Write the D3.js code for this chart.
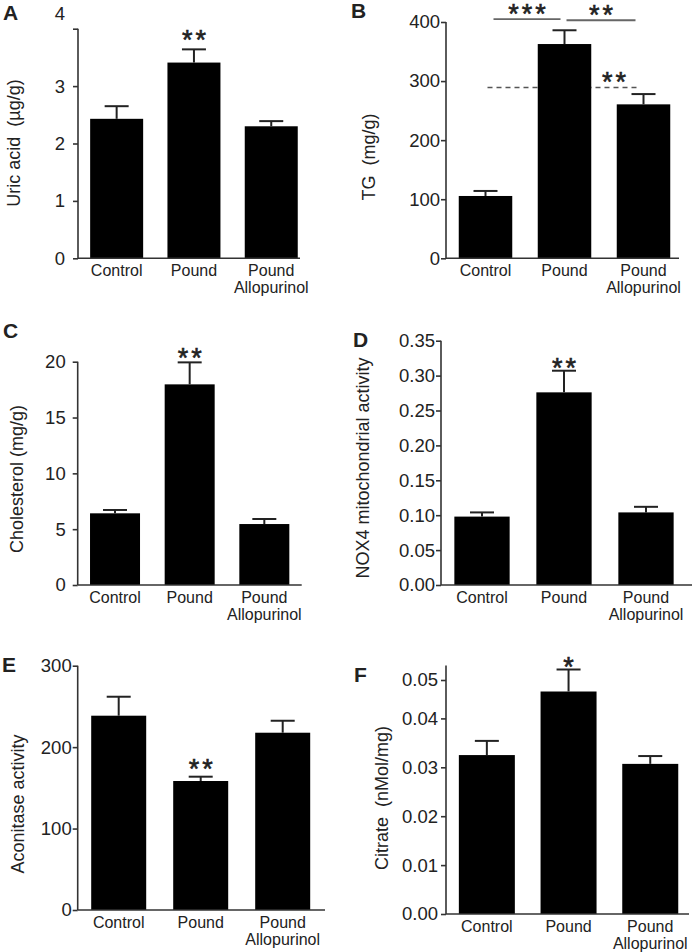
<!DOCTYPE html>
<html>
  <head>
    <meta charset="utf-8">
    <title>Pound / Allopurinol panels</title>
    <script src="https://d3js.org/d3.v7.min.js"></script>
    <style>
      body { margin: 0; background: #fff; }
      text { font-family: "Liberation Sans", Arial, sans-serif; fill: #222; white-space: pre; }
    </style>
  </head>
  <body>
    <svg id="grafico"></svg>
    <script>
      // categorias comunes a todos los paneles
      var categorias = ["Control", "Pound", "Pound\nAllopurinol"];

      // valores (media y error estandar)
      var uricoMedia = [2.43, 3.41, 2.30];
      var uricoError = [0.22, 0.23, 0.09];
      var uricoTicks = [0, 1, 2, 3, 4];

      var tgMedia = [105.5, 362.7, 260.6];
      var tgError = [8.5, 23.3, 17.4];
      var tgTicks = [0, 100, 200, 300, 400];

      var colesterolMedia = [6.42, 17.97, 5.46];
      var colesterolError = [0.30, 1.97, 0.45];
      var colesterolTicks = [0, 5, 10, 15, 20];

      var nox4Media = [0.098, 0.276, 0.104];
      var nox4Error = [0.006, 0.031, 0.008];
      var nox4Ticks = [0, 0.05, 0.10, 0.15, 0.20, 0.25, 0.30, 0.35];

      var aconitasaMedia = [238.6, 158.4, 217.7];
      var aconitasaError = [23.3, 5.3, 14.7];
      var aconitasaTicks = [0, 100, 200, 300];

      var citratoMedia = [0.0325, 0.0455, 0.0307];
      var citratoError = [0.0029, 0.0045, 0.0016];
      var citratoTicks = [0, 0.01, 0.02, 0.03, 0.04, 0.05];

      // asteriscos sobre cada barra ("" = nada)
      var uricoSig = ["", "**", ""];
      var colesterolSig = ["", "**", ""];
      var nox4Sig = ["", "**", ""];
      var aconitasaSig = ["", "**", ""];
      var citratoSig = ["", "*", ""];

      // comparaciones del panel B
      var tgCorchetes = [
        {desde: 0, hasta: 1, valor: 405, texto: "***"},
        {desde: 1, hasta: 2, valor: 403, texto: "**"}
      ];
      var tgLineaDiscontinua = {valor: 289, texto: "**", valorTexto: 309};

      var svg = d3.select("#grafico").attr("width", 693).attr("height", 952);

      var paneles = [
        {letra: "A", titulo: "Uric acid  (µg/g)", media: uricoMedia, error: uricoError, ticks: uricoTicks, sig: uricoSig,
         fmt: d3.format("d"), izq: 78, paso: 77.3, anchoBarra: 53, base: 258.3, arriba: 28.7, der: 300, pad: 8,
         tituloX: 20, tituloY: 143, letraX: 3, letraY: 20, sigGap: 16, dyTopLabel: -15, dyTopTick: 0},
        {letra: "B", titulo: "TG  (mg/g)", media: tgMedia, error: tgError, ticks: tgTicks, sig: ["", "", ""],
         fmt: d3.format("d"), izq: 446, paso: 79, anchoBarra: 53.5, base: 258.3, arriba: 22, der: 679, pad: 1,
         tituloX: 375, tituloY: 157, letraX: 351, letraY: 18, sigGap: 10, dyTopLabel: 0, dyTopTick: 0},
        {letra: "C", titulo: "Cholesterol (mg/g)", media: colesterolMedia, error: colesterolError, ticks: colesterolTicks, sig: colesterolSig,
         fmt: d3.format("d"), izq: 77.7, paso: 74.65, anchoBarra: 50, base: 585, arriba: 361.7, der: 301.7, pad: 7,
         tituloX: 22.5, tituloY: 479, letraX: 3, letraY: 338, sigGap: 11, dyTopLabel: 0, dyTopTick: 0},
        {letra: "D", titulo: "NOX4 mitochondrial activity", media: nox4Media, error: nox4Error, ticks: nox4Ticks, sig: nox4Sig,
         fmt: d3.format(".2f"), izq: 441, paso: 82, anchoBarra: 55.3, base: 585, arriba: 340.7, der: 692, pad: 1,
         tituloX: 369, tituloY: 468, letraX: 353, letraY: 347, sigGap: 9, dyTopLabel: 0, dyTopTick: 0},
        {letra: "E", titulo: "Aconitase activity", media: aconitasaMedia, error: aconitasaError, ticks: aconitasaTicks, sig: aconitasaSig,
         fmt: d3.format("d"), izq: 77.7, paso: 82, anchoBarra: 55, base: 910, arriba: 665.7, der: 325, pad: 1,
         tituloX: 24, tituloY: 804, letraX: 2, letraY: 672, sigGap: 14, dyTopLabel: 0, dyTopTick: 0},
        {letra: "F", titulo: "Citrate  (nMol/mg)", media: citratoMedia, error: citratoError, ticks: citratoTicks, sig: citratoSig,
         fmt: d3.format(".2f"), izq: 446, paso: 81.7, anchoBarra: 56, base: 914, arriba: 669.5, der: 689, pad: 3,
         tituloX: 388, tituloY: 798, letraX: 354, letraY: 682, sigGap: 9, dyTopLabel: 0, dyTopTick: 11}
      ];

      // dibuja un asterisco (o varios) centrado en (cx, cy)
      function asteriscos(g, cx, cy, texto) {
        g.append("text")
          .attr("x", cx + 1.5)
          .attr("y", cy + 15.5)
          .attr("text-anchor", "middle")
          .attr("font-size", 27)
          .attr("letter-spacing", 3)
          .attr("stroke", "#222")
          .attr("stroke-width", 0.6)
          .text(texto);
      }

      paneles.forEach(function(p) {
        var g = svg.append("g");
        var maxY = p.ticks[p.ticks.length - 1];

        var escalaX = d3.scaleBand()
          .domain(categorias)
          .range([p.izq, p.izq + p.paso * categorias.length])
          .paddingInner(1 - p.anchoBarra / p.paso)
          .paddingOuter((1 - p.anchoBarra / p.paso) / 2);
        var escalaY = d3.scaleLinear().domain([0, maxY]).range([p.base, p.arriba]);
        var centro = function(i) { return escalaX(categorias[i]) + escalaX.bandwidth() / 2; };

        // linea discontinua del panel B (detras de las barras)
        if (p.letra === "B") {
          g.append("line")
            .attr("x1", centro(0) + 2).attr("x2", centro(2) - 3)
            .attr("y1", escalaY(tgLineaDiscontinua.valor)).attr("y2", escalaY(tgLineaDiscontinua.valor))
            .attr("stroke", "#555").attr("stroke-width", 1.6).attr("stroke-dasharray", "5,4");
        }

        // barras
        g.selectAll("rect.barra")
          .data(p.media)
          .enter()
          .append("rect")
          .attr("class", "barra")
          .attr("x", function(d, i) { return escalaX(categorias[i]); })
          .attr("width", escalaX.bandwidth())
          .attr("y", function(d) { return escalaY(d); })
          .attr("height", function(d) { return p.base - escalaY(d); })
          .attr("fill", "#000");

        // barras de error (solo hacia arriba)
        p.media.forEach(function(m, i) {
          var cx = centro(i);
          var yTop = escalaY(m + p.error[i]);
          g.append("line").attr("x1", cx).attr("x2", cx)
            .attr("y1", escalaY(m)).attr("y2", yTop)
            .attr("stroke", "#222").attr("stroke-width", 2);
          g.append("line").attr("x1", cx - 12).attr("x2", cx + 12)
            .attr("y1", yTop).attr("y2", yTop)
            .attr("stroke", "#222").attr("stroke-width", 2);
          if (p.sig[i]) asteriscos(g, cx, yTop - p.sigGap, p.sig[i]);
        });

        // eje Y
        var ejeY = d3.axisLeft(escalaY)
          .tickValues(p.ticks)
          .tickFormat(p.fmt)
          .tickSize(5)
          .tickPadding(p.pad);
        var gy = g.append("g")
          .attr("transform", "translate(" + p.izq + ",0)")
          .call(ejeY);
        gy.select(".domain").attr("d", "M0," + (p.arriba - (p.dyTopTick ? 4 : 0)) + "V" + p.base)
          .attr("stroke", "#333").attr("stroke-width", 1.6);
        gy.selectAll(".tick line").attr("stroke", "#333").attr("stroke-width", 1.6);
        gy.selectAll(".tick text")
          .attr("font-size", 18.5)
          .attr("font-family", "Liberation Sans, Arial, sans-serif")
          .attr("fill", "#222");
        var topTick = gy.selectAll(".tick").filter(function(d) { return d === maxY; });
        if (p.dyTopTick) topTick.attr("transform", "translate(0," + (escalaY(maxY) + p.dyTopTick) + ")");
        if (p.dyTopLabel) topTick.select("text").attr("y", p.dyTopLabel);

        // eje X (sin marcas)
        g.append("line")
          .attr("x1", p.izq).attr("x2", p.der)
          .attr("y1", p.base).attr("y2", p.base)
          .attr("stroke", "#333").attr("stroke-width", 1.6);

        // etiquetas de categoria (una linea por texto)
        categorias.forEach(function(c, i) {
          c.split("\n").forEach(function(linea, k) {
            g.append("text")
              .attr("x", centro(i))
              .attr("y", p.base + 18 + k * 17)
              .attr("text-anchor", "middle")
              .attr("font-size", 16)
              .text(linea);
          });
        });

        // titulo del eje Y
        g.append("text")
          .attr("transform", "translate(" + p.tituloX + "," + p.tituloY + ") rotate(-90)")
          .attr("text-anchor", "middle")
          .attr("font-size", 18)
          .text(p.titulo);

        // letra del panel
        g.append("text")
          .attr("x", p.letraX)
          .attr("y", p.letraY)
          .attr("font-size", 21)
          .attr("font-weight", "bold")
          .attr("fill", "#000")
          .text(p.letra);

        // corchetes de comparacion del panel B
        if (p.letra === "B") {
          tgCorchetes.forEach(function(c, k) {
            var x1 = centro(c.desde) + (k === 0 ? 8 : 2);
            var x2 = centro(c.hasta) - (k === 0 ? 4 : 8);
            var y = escalaY(c.valor);
            g.append("line").attr("x1", x1).attr("x2", x2).attr("y1", y).attr("y2", y)
              .attr("stroke", "#666").attr("stroke-width", 1.8);
            asteriscos(g, (x1 + x2) / 2, y - 12, c.texto);
          });
          asteriscos(g, (centro(1) + centro(2)) / 2 + 10, escalaY(tgLineaDiscontinua.valorTexto), tgLineaDiscontinua.texto);
        }
      });
    </script>
  </body>
</html>
